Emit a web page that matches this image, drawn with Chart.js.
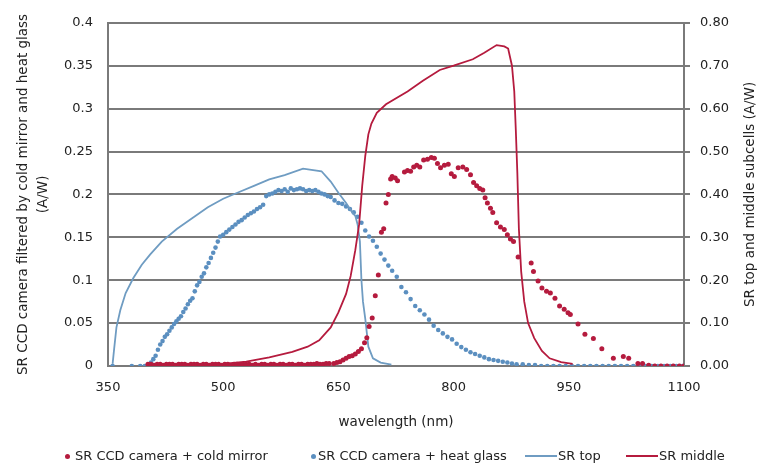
<!DOCTYPE html>
<html>
<head>
<meta charset="utf-8">
<script src="https://cdn.jsdelivr.net/npm/chart.js@4.4.1/dist/chart.umd.min.js"></script>
<style>
html,body{margin:0;padding:0;background:#fff;}
#wrap{position:relative;width:764px;height:473px;overflow:hidden;}
#c{position:absolute;left:0;top:0;}
#legend{position:absolute;left:0;top:446px;width:764px;height:20px;font-family:"DejaVu Sans",sans-serif;font-size:13px;color:#222;}
.item{position:absolute;top:0;height:20px;line-height:20px;white-space:nowrap;}
.dot{position:absolute;top:8px;width:5px;height:5px;border-radius:50%;}
.ln{position:absolute;top:9px;height:2px;}
</style>
</head>
<body>
<div id="wrap">
<canvas id="c" width="764" height="473"></canvas>
<div id="legend"></div>
</div>
<script>
// ---------------- DATA ----------------
const seriesLabels = ['SR CCD camera + cold mirror', 'SR CCD camera + heat glass', 'SR top', 'SR middle'];
const xTitle = 'wavelength (nm)';
const leftTitle = ['SR CCD camera filtered by cold mirror and heat glass', '(A/W)'];
const rightTitle = 'SR top and middle subcells (A/W)';
const xTicks = [350, 500, 650, 800, 950, 1100];
const xTickLabels = ['350', '500', '650', '800', '950', '1100'];
const leftTickLabels = ['0', '0.05', '0.1', '0.15', '0.2', '0.25', '0.3', '0.35', '0.4'];
const rightTickLabels = ['0.00', '0.10', '0.20', '0.30', '0.40', '0.50', '0.60', '0.70', '0.80'];

// SR CCD camera + cold mirror (left axis)
const coldX = [402,406,410,414,418,422,426,430,434,438,442,446,450,454,458,462,466,470,474,478,
  482,486,490,494,498,502,506,510,514,518,522,526,530,534,538,542,546,550,554,558,
  562,566,570,574,578,582,586,590,594,598,602,606,610,614,618,622,626,630,634,638,
  644,648,652,656,660,664,668,672,676,680,684,687,690,694,698,702,706,709,712,715,
  718,720,724,727,736,740,744,748,752,756,761,766,771,775,779,783,788,793,797,801,
  806,812,817,822,826,830,834,838,841,844,848,851,856,861,866,870,874,878,884,901,
  904,910,915,921,926,932,938,944,949,952,962,971,982,993,1008,1021,1028,1040,1046,1054,
  1062,1070,1078,1086,1094,1100];
const coldMirror = [0.002,0.002,0.001,0.002,0.002,0.001,0.002,0.002,0.002,0.001,0.002,0.002,0.002,0.001,0.002,0.002,0.002,0.001,0.002,0.002,
  0.001,0.002,0.002,0.002,0.001,0.002,0.002,0.001,0.002,0.002,0.001,0.002,0.002,0.002,0.001,0.002,0.001,0.002,0.002,0.001,
  0.002,0.002,0.001,0.002,0.002,0.001,0.002,0.002,0.001,0.002,0.002,0.001,0.002,0.002,0.002,0.003,0.002,0.002,0.003,0.003,
  0.003,0.004,0.005,0.007,0.009,0.011,0.012,0.014,0.017,0.02,0.027,0.033,0.046,0.056,0.082,0.106,0.156,0.16,0.19,0.2,
  0.218,0.221,0.219,0.216,0.226,0.228,0.227,0.232,0.234,0.232,0.24,0.241,0.243,0.242,0.236,0.231,0.234,0.235,0.224,0.221,
  0.231,0.232,0.229,0.223,0.214,0.21,0.207,0.205,0.196,0.19,0.184,0.179,0.167,0.162,0.159,0.153,0.148,0.145,0.127,0.12,
  0.11,0.099,0.091,0.087,0.085,0.079,0.07,0.066,0.062,0.06,0.049,0.037,0.032,0.02,0.009,0.011,0.009,0.003,0.003,0.001,
  0,0,0,0,0,0];

// SR CCD camera + heat glass (left axis)
const heatX = [356,381,392,398,402,406,409,412,415,418,421,424,427,430,433,436,439,442,445,448,
  451,454,457,460,463,466,469,472,475,478,481,484,487,490,493,496,500,504,508,512,
  516,520,524,528,532,536,540,544,548,552,556,560,564,568,572,576,580,584,588,592,
  596,600,604,608,612,616,620,624,628,632,636,640,645,650,655,660,665,670,675,680,
  685,690,695,700,705,710,715,720,726,732,738,744,750,756,762,768,774,780,786,792,
  798,804,810,816,822,828,834,840,846,852,858,864,870,876,882,890,898,906,914,922,
  930,938,946,954,962,970,978,986,994,1002,1010,1018,1026,1034,1042,1050,1058,1066,1074,1082,
  1090,1098];
const heatGlass = [0,0,0,0,0.001,0.004,0.008,0.012,0.019,0.025,0.029,0.034,0.037,0.041,0.045,0.049,0.052,0.055,0.058,0.063,
  0.067,0.072,0.076,0.079,0.087,0.094,0.098,0.104,0.108,0.115,0.12,0.126,0.132,0.138,0.145,0.151,0.153,0.156,0.159,0.162,
  0.165,0.168,0.17,0.173,0.176,0.178,0.18,0.183,0.185,0.188,0.198,0.2,0.201,0.203,0.205,0.204,0.206,0.203,0.207,0.205,
  0.206,0.207,0.206,0.204,0.205,0.204,0.205,0.203,0.201,0.2,0.198,0.197,0.193,0.19,0.189,0.186,0.183,0.179,0.174,0.167,
  0.158,0.151,0.146,0.139,0.131,0.124,0.117,0.111,0.104,0.092,0.086,0.078,0.07,0.065,0.06,0.054,0.047,0.042,0.038,0.034,
  0.031,0.026,0.022,0.019,0.016,0.014,0.012,0.01,0.008,0.007,0.006,0.005,0.004,0.003,0.002,0.002,0.001,0.001,0,0,
  0,0,0,0,0,0,0,0,0,0,0,0,0,0,0,0,0,0,0,0,
  0,0];

// SR top (right axis)
const topX = [356,358,361,366,373,383,394,405,420,440,460,480,500,520,540,560,580,604,628,640,
  650,660,668,672,675,678,680,682,685,689,695,705,719];
const srTop = [0.005,0.04,0.09,0.13,0.17,0.205,0.236,0.26,0.29,0.32,0.345,0.37,0.39,0.405,0.42,0.435,0.445,0.46,0.454,0.43,
  0.404,0.38,0.358,0.35,0.33,0.29,0.2,0.15,0.11,0.045,0.018,0.008,0.003];

// SR middle (right axis)
const midX = [400,450,500,530,560,590,610,625,640,650,660,666,672,677,681,685,689,693,700,712,
  740,760,782,800,825,840,856,866,871,876,879,881,883,885,888,892,897,905,915,925,
  940,955];
const srMiddle = [0.002,0.003,0.005,0.01,0.02,0.033,0.045,0.06,0.09,0.125,0.168,0.21,0.27,0.33,0.42,0.49,0.54,0.565,0.59,0.61,
  0.64,0.665,0.69,0.70,0.715,0.73,0.748,0.745,0.74,0.70,0.64,0.55,0.45,0.32,0.22,0.15,0.10,0.065,0.035,0.018,
  0.009,0.005];

// ---------------- STYLE ----------------
const RED = '#b51b3e';
const BLUE_DOT = '#5b8fc0';
const BLUE_LINE = '#6f9cc2';
const GRID = '#7a7a7a';
const TEXT = '#222222';
const FONT = '"DejaVu Sans", sans-serif';

const pts = (xs, ys) => xs.map((x, i) => ({x: x, y: ys[i]}));

const rightTitlePlugin = {
  id: 'rightTitle',
  afterDraw(chart) {
    const ctx = chart.ctx, a = chart.chartArea;
    ctx.save();
    ctx.font = '13.5px ' + FONT;
    ctx.fillStyle = TEXT;
    ctx.textAlign = 'center';
    ctx.textBaseline = 'middle';
    ctx.translate(750, (a.top + a.bottom) / 2);
    ctx.rotate(-Math.PI / 2);
    ctx.fillText(rightTitle, 0, 0);
    ctx.restore();
  }
};

new Chart(document.getElementById('c'), {
  type: 'scatter',
  data: {
    datasets: [
      {label: seriesLabels[2], data: pts(topX, srTop), yAxisID: 'y2', showLine: true, borderColor: BLUE_LINE, borderWidth: 1.8, pointRadius: 0, tension: 0, order: 2},
      {label: seriesLabels[3], data: pts(midX, srMiddle), yAxisID: 'y2', showLine: true, borderColor: RED, borderWidth: 1.8, pointRadius: 0, tension: 0, order: 1},
      {label: seriesLabels[1], data: pts(heatX, heatGlass), yAxisID: 'y', showLine: false, backgroundColor: BLUE_DOT, borderWidth: 0, pointRadius: 2.3, order: 3},
      {label: seriesLabels[0], data: pts(coldX, coldMirror), yAxisID: 'y', showLine: false, backgroundColor: RED, borderWidth: 0, pointRadius: 2.5, order: 0}
    ]
  },
  options: {
    responsive: false,
    animation: false,
    devicePixelRatio: 1,
    layout: {padding: {top: 17, left: 0, right: 0, bottom: 0}},
    plugins: {legend: {display: false}, tooltip: {enabled: false}},
    scales: {
      x: {
        type: 'linear', min: 350, max: 1100,
        afterBuildTicks: s => { s.ticks = xTicks.map(v => ({value: v})); },
        afterFit: s => { s.height = 107; },
        grid: {display: false, drawTicks: false},
        border: {display: false},
        ticks: {font: {family: FONT, size: 13}, color: TEXT, padding: 14, maxRotation: 0, callback: (v, i) => xTickLabels[i]},
        title: {display: true, text: xTitle, font: {family: FONT, size: 13.5}, color: TEXT, padding: {top: 0, bottom: 42}}
      },
      y: {
        type: 'linear', position: 'left', min: 0, max: 0.4,
        afterBuildTicks: s => { s.ticks = leftTickLabels.map(t => ({value: parseFloat(t)})); },
        afterFit: s => { s.width = 108; },
        grid: {color: GRID, lineWidth: 2, drawTicks: false},
        border: {display: true, color: GRID, width: 2},
        ticks: {font: {family: FONT, size: 13}, color: TEXT, padding: 15, callback: (v, i) => leftTickLabels[i]},
        title: {display: true, text: leftTitle, font: {family: FONT, size: 13.5, lineHeight: 1.45}, color: TEXT, padding: {top: 14, bottom: 0}}
      },
      y2: {
        type: 'linear', position: 'right', min: 0, max: 0.8,
        afterBuildTicks: s => { s.ticks = rightTickLabels.map(t => ({value: parseFloat(t)})); },
        afterFit: s => { s.width = 80; },
        grid: {drawOnChartArea: false, drawTicks: true, tickLength: 6, color: GRID, lineWidth: 2},
        border: {display: true, color: GRID, width: 2},
        ticks: {font: {family: FONT, size: 13}, color: TEXT, padding: 10, callback: (v, i) => rightTickLabels[i]}
      }
    }
  },
  plugins: [rightTitlePlugin]
});

// ---------------- LEGEND (HTML) ----------------
const legendItems = [
  {label: seriesLabels[0], kind: 'dot', color: RED, markX: 65, textX: 75},
  {label: seriesLabels[1], kind: 'dot', color: BLUE_DOT, markX: 311, textX: 318},
  {label: seriesLabels[2], kind: 'line', color: BLUE_LINE, markX: 525, markW: 32, textX: 558},
  {label: seriesLabels[3], kind: 'line', color: RED, markX: 626, markW: 32, textX: 659}
];
const lg = document.getElementById('legend');
legendItems.forEach(it => {
  const m = document.createElement('div');
  m.className = it.kind === 'dot' ? 'dot' : 'ln';
  m.style.left = it.markX + 'px';
  m.style.background = it.color;
  if (it.kind === 'line') m.style.width = it.markW + 'px';
  lg.appendChild(m);
  const t = document.createElement('div');
  t.className = 'item';
  t.style.left = it.textX + 'px';
  t.textContent = it.label;
  lg.appendChild(t);
});
</script>
</body>
</html>
